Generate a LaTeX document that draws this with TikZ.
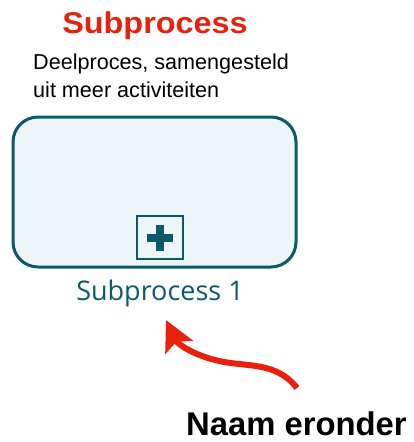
\documentclass[tikz,border=0pt]{standalone}
\usepackage{fontspec}
\setmainfont{Liberation Sans}
\newfontfamily\labelfont{Open Sans}
\usetikzlibrary{arrows.meta}
\definecolor{bpmnteal}{HTML}{0A5A6C}
\definecolor{bpmnfill}{HTML}{EEF5F9}
\definecolor{noteRed}{HTML}{E8200C}
\begin{document}
\begin{tikzpicture}[x=1pt,y=-1pt,
  title/.style={inner sep=0pt,text=noteRed,font=\fontsize{30}{30}\selectfont\bfseries},
  desc/.style={inner sep=0pt,anchor=base west,font=\fontsize{21.6}{24}\selectfont},
  subbox/.style={draw=bpmnteal,fill=bpmnfill,line width=3pt,rounded corners=25pt},
  markerbox/.style={draw=bpmnteal,line width=2.2pt},
  pointer/.style={draw=noteRed,line width=6pt,-{Stealth[length=30pt,width=30pt,inset=6pt]}}]

\useasboundingbox (0,0) rectangle (414,442);

\node[title,xscale=1.08,anchor=base] (title) at (155,33) {Subprocess};
\node[desc] (desc1) at (33,69.5) {Deelproces, samengesteld};
\node[desc] (desc2) at (33,97.5) {uit meer activiteiten};

\draw[subbox] (13,117) rectangle (296,267);
\draw[markerbox] (137,216) rectangle (183,259);
\fill[bpmnteal] (147,233.5) rectangle (173,241.5);
\fill[bpmnteal] (156,224.5) rectangle (164,250.5);

\node[anchor=base,inner sep=0pt,text=bpmnteal,font=\labelfont\fontsize{27}{27}\selectfont] (name) at (160,300.5) {Subprocess 1};

\coordinate (arrowstart) at (297,388);
\coordinate (arrowtip) at (166,320);
\draw[pointer] (arrowstart) .. controls (275,360) and (245,368) .. (215,360)
  .. controls (195,355) and (178,345) .. (arrowtip);

\node[anchor=base west,inner sep=0pt,font=\fontsize{32.8}{33}\selectfont\bfseries] (below) at (186,435) {Naam eronder};
\end{tikzpicture}
\end{document}
